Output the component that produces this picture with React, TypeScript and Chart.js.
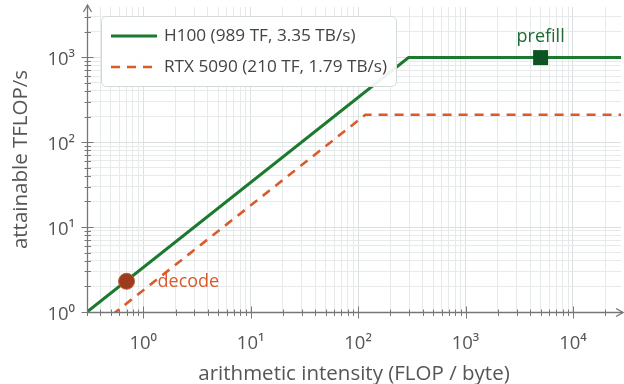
import React, { useEffect, useRef } from "react";
import { Chart, registerables } from "chart.js";

Chart.register(...registerables);

// ---- data ----
const h100X = [0.3, 295, 28000];
const h100Y = [1.0, 989, 989];
const rtxX = [0.3, 117, 28000];
const rtxY = [0.54, 210, 210];
const decodeX = [0.7];
const decodeY = [2.3];
const prefillX = [5000];
const prefillY = [989];
const xDecadeExps = [0, 1, 2, 3, 4];
const yDecadeExps = [0, 1, 2, 3];
const legendLabels = ["H100 (989 TF, 3.35 TB/s)", "RTX 5090 (210 TF, 1.79 TB/s)"];
const annotationLabels = ["decode", "prefill"];
const xTitle = "arithmetic intensity (FLOP / byte)";
const yTitle = "attainable TFLOP/s";
const xMin = 0.3, xMax = 28000;
const yMin = 1, yMax = 3900;

const SUP = ["⁰", "¹", "²", "³", "⁴", "⁵"];
const FONT = "'Open Sans', 'Noto Sans', sans-serif";
const GREEN = "#1b7a2f";
const ORANGE = "#d95a2b";
const DECODE_DOT = "#9c3c1c";
const PREFILL_SQ = "#0c5522";
const AXIS = "#777777";
const TEXT = "#555555";

const isDecade = (v: number) => Math.abs(Math.log10(v) - Math.round(Math.log10(v))) < 1e-9;

function logTicks(scale: any, min: number, max: number) {
  const vals: number[] = [];
  for (let e = Math.floor(Math.log10(min)); e <= Math.ceil(Math.log10(max)); e++) {
    for (let m = 1; m <= 9; m++) {
      const v = m * Math.pow(10, e);
      if (v >= min * 0.9999 && v <= max * 1.0001) vals.push(v);
    }
  }
  scale.ticks = vals.map((v) => ({ value: v, major: isDecade(v) }));
}

function zip(xs: number[], ys: number[]) {
  return xs.map((x, i) => ({ x, y: ys[i] }));
}

const decorPlugin = {
  id: "decor",
  afterDraw(chart: any) {
    const { ctx, chartArea, scales } = chart;
    const xs = scales.x, ys = scales.y;
    const ax = chartArea.left + 0.5;
    const ay = chartArea.bottom + 0.5;
    ctx.save();
    // axes
    ctx.strokeStyle = AXIS;
    ctx.lineWidth = 1.3;
    ctx.beginPath();
    ctx.moveTo(ax, ay);
    ctx.lineTo(ax, 5);
    ctx.moveTo(ax, ay);
    ctx.lineTo(623, ay);
    ctx.stroke();
    // arrow heads
    ctx.beginPath();
    ctx.moveTo(ax - 4, 12);
    ctx.lineTo(ax, 5);
    ctx.lineTo(ax + 4, 12);
    ctx.moveTo(616, ay - 4);
    ctx.lineTo(623, ay);
    ctx.lineTo(616, ay + 4);
    ctx.stroke();
    // tick marks
    ctx.lineWidth = 1;
    ctx.beginPath();
    for (const t of ys.ticks) {
      if (t.value >= yMax * 0.999) continue;
      const y = Math.round(ys.getPixelForValue(t.value)) + 0.5;
      const maj = isDecade(t.value);
      ctx.moveTo(ax - (maj ? 6 : 3), y);
      ctx.lineTo(ax + (maj ? 6 : 3.5), y);
    }
    for (const t of xs.ticks) {
      if (t.value >= xMax * 0.999) continue;
      const x = Math.round(xs.getPixelForValue(t.value)) + 0.5;
      const maj = isDecade(t.value);
      ctx.moveTo(x, ay - (maj ? 6 : 3));
      ctx.lineTo(x, ay + (maj ? 6 : 3.5));
    }
    ctx.stroke();

    // annotations
    const dx = xs.getPixelForValue(decodeX[0]);
    const dy = ys.getPixelForValue(decodeY[0]);
    ctx.font = `18px ${FONT}`;
    ctx.textBaseline = "middle";
    ctx.textAlign = "left";
    ctx.fillStyle = ORANGE;
    ctx.fillText(annotationLabels[0], dx + 31, dy + 1);
    const px = xs.getPixelForValue(prefillX[0]);
    const py = ys.getPixelForValue(prefillY[0]);
    ctx.fillStyle = "#1e6a34";
    ctx.textAlign = "center";
    ctx.fillText(annotationLabels[1], px, py - 21);

    // legend
    const bx = 101.5, by = 16.5, bw = 295, bh = 70;
    ctx.beginPath();
    ctx.roundRect(bx, by, bw, bh, 5);
    ctx.fillStyle = "rgba(255,255,255,0.92)";
    ctx.fill();
    ctx.strokeStyle = "#d3d9d9";
    ctx.lineWidth = 1;
    ctx.stroke();
    const rows = [
      { y: 36, color: GREEN, dash: [] as number[], width: 3 },
      { y: 67, color: ORANGE, dash: [9, 7], width: 2.6 },
    ];
    rows.forEach((r, i) => {
      ctx.beginPath();
      ctx.setLineDash(r.dash);
      ctx.strokeStyle = r.color;
      ctx.lineWidth = r.width;
      ctx.moveTo(111, r.y);
      ctx.lineTo(157, r.y);
      ctx.stroke();
      ctx.setLineDash([]);
      ctx.fillStyle = "#444444";
      ctx.font = `17.2px ${FONT}`;
      ctx.textAlign = "left";
      ctx.textBaseline = "middle";
      ctx.fillText(legendLabels[i], 164, r.y);
    });
    ctx.restore();
  },
};

export default function App() {
  const ref = useRef<HTMLCanvasElement>(null);
  useEffect(() => {
    if (!ref.current) return;
    const gridColor = (c: any) =>
      c.tick && isDecade(c.tick.value) ? "#dbe0e0" : "#e6eaea";
    const chart = new Chart(ref.current, {
      type: "scatter",
      data: {
        datasets: [
          {
            label: legendLabels[0],
            data: zip(h100X, h100Y),
            showLine: true,
            borderColor: GREEN,
            borderWidth: 3,
            pointRadius: 0,
            order: 3,
          },
          {
            label: legendLabels[1],
            data: zip(rtxX, rtxY),
            showLine: true,
            borderColor: ORANGE,
            borderWidth: 2.6,
            borderDash: [9, 7],
            pointRadius: 0,
            order: 4,
          },
          {
            label: annotationLabels[0],
            data: zip(decodeX, decodeY),
            pointRadius: 8,
            pointBackgroundColor: DECODE_DOT,
            pointBorderColor: "#b8603e",
            pointBorderWidth: 1,
            order: 1,
          },
          {
            label: annotationLabels[1],
            data: zip(prefillX, prefillY),
            pointStyle: "rect",
            pointRadius: 10.6,
            pointBackgroundColor: PREFILL_SQ,
            pointBorderColor: PREFILL_SQ,
            pointBorderWidth: 0,
            order: 2,
          },
        ],
      },
      options: {
        animation: false,
        responsive: false,
        layout: { autoPadding: false, padding: { top: 7, right: 3, left: 0, bottom: 0 } },
        plugins: { legend: { display: false }, tooltip: { enabled: false } },
        scales: {
          x: {
            type: "logarithmic",
            min: xMin,
            max: xMax,
            afterBuildTicks: (s: any) => logTicks(s, xMin, xMax),
            afterFit: (s: any) => {
              s.height = 72;
              s.paddingLeft = 0;
              s.paddingRight = 0;
            },
            grid: { color: gridColor, drawTicks: false, lineWidth: 1 },
            border: { display: false },
            ticks: {
              autoSkip: false,
              maxRotation: 0,
              padding: 21,
              color: TEXT,
              font: { family: FONT, size: 18.5 },
              callback: (v: any) => {
                const e = Math.round(Math.log10(v));
                return isDecade(v) && xDecadeExps.includes(e) ? "10" + SUP[e] : "";
              },
            },
            title: {
              display: true,
              text: xTitle,
              color: TEXT,
              font: { family: FONT, size: 20.5 },
              padding: { top: 0, bottom: -2 },
            },
          },
          y: {
            type: "logarithmic",
            min: yMin,
            max: yMax,
            afterBuildTicks: (s: any) => logTicks(s, yMin, yMax),
            afterFit: (s: any) => {
              s.width = 87;
              s.paddingTop = 0;
              s.paddingBottom = 0;
            },
            grid: { color: gridColor, drawTicks: false, lineWidth: 1 },
            border: { display: false },
            ticks: {
              autoSkip: false,
              padding: 12,
              labelOffset: 3,
              color: TEXT,
              font: { family: FONT, size: 18.5 },
              callback: (v: any) => {
                const e = Math.round(Math.log10(v));
                return isDecade(v) && yDecadeExps.includes(e) ? "10" + SUP[e] : "";
              },
            },
            title: {
              display: true,
              text: yTitle,
              color: TEXT,
              font: { family: FONT, size: 20.5 },
              padding: { top: 9, bottom: 0 },
            },
          },
        },
      },
      plugins: [decorPlugin],
    } as any);
    return () => chart.destroy();
  }, []);
  return (
    <div style={{ position: "fixed", left: 0, top: 0, width: 624, height: 384, background: "#fff" }}>
      <canvas ref={ref} width={624} height={384} style={{ display: "block" }} />
    </div>
  );
}
